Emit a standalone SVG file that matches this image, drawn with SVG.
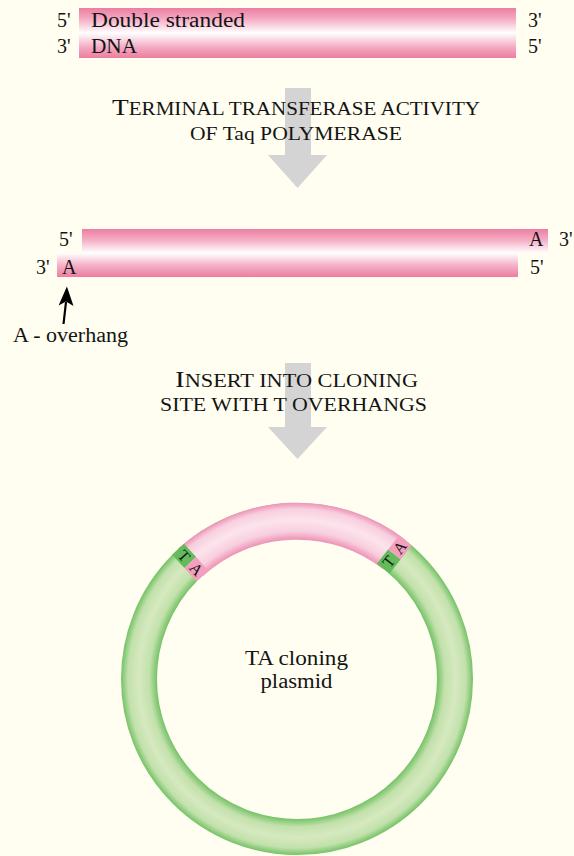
<svg xmlns="http://www.w3.org/2000/svg" width="574" height="856" viewBox="0 0 574 856">
<defs>
<style>
.t{font-family:'Liberation Serif','Times New Roman','DejaVu Serif',serif;fill:#141414}
.lbl{font-size:20px}
.sc{font-size:18.5px}
.cap{font-size:24px}
.bx{font-size:16px}
.garrow{fill:#d4d4d4}
</style>
<linearGradient id="dnaFull" x1="0" y1="0" x2="0" y2="1">
<stop offset="0" stop-color="#ec7ea0"/><stop offset="0.2" stop-color="#f3a6c0"/><stop offset="0.5" stop-color="#ffffff"/><stop offset="0.8" stop-color="#f3a6c0"/><stop offset="1" stop-color="#ec7ea0"/>
</linearGradient>
<linearGradient id="strandTop" x1="0" y1="0" x2="0" y2="1">
<stop offset="0" stop-color="#ec7ea0"/><stop offset="0.45" stop-color="#f4acc4"/><stop offset="1" stop-color="#ffffff"/>
</linearGradient>
<linearGradient id="strandBot" x1="0" y1="0" x2="0" y2="1">
<stop offset="0" stop-color="#ffffff"/><stop offset="0.55" stop-color="#f4acc4"/><stop offset="1" stop-color="#ec7ea0"/>
</linearGradient>
<radialGradient id="greenRing" gradientUnits="userSpaceOnUse" cx="297" cy="679" r="176">
<stop offset="0.795" stop-color="#74c266"/><stop offset="0.84" stop-color="#c2e1ab"/><stop offset="0.9" stop-color="#d6e9c0"/><stop offset="0.96" stop-color="#c2e1ab"/><stop offset="1" stop-color="#74c266"/>
</radialGradient>
<radialGradient id="pinkRing" gradientUnits="userSpaceOnUse" cx="297" cy="679" r="177">
<stop offset="0.79" stop-color="#ee96b7"/><stop offset="0.835" stop-color="#f8cfdf"/><stop offset="0.9" stop-color="#fce4ec"/><stop offset="0.96" stop-color="#f8cfdf"/><stop offset="1" stop-color="#ec8db1"/>
</radialGradient>
</defs>
<rect width="574" height="856" fill="#fffef0"/>

<g id="connectors">
<path class="garrow" d="M285 88 H311 V155 H327 L297.5 188 L268 155 H285 Z"/>
<path class="garrow" d="M285 363 H311 V427 H327 L297.5 459 L268 427 H285 Z"/>
<line x1="63.5" y1="324" x2="66" y2="302" stroke="#000" stroke-width="2.2"/>
<path d="M66.9 286.5 L73.5 306 L66 301.5 L58.6 305.5 Z" fill="#000"/>
</g>

<g font-family="'Liberation Serif','Times New Roman','DejaVu Serif',serif">
<g id="dna-top">
<rect x="79" y="8" width="437" height="50" fill="url(#dnaFull)"/>
<text class="t lbl" x="57" y="27">5'</text>
<text class="t lbl" x="57" y="53">3'</text>
<text class="t lbl" x="91" y="27" textLength="154" lengthAdjust="spacingAndGlyphs">Double stranded</text>
<text class="t lbl" x="91" y="53" textLength="46" lengthAdjust="spacingAndGlyphs">DNA</text>
<text class="t lbl" x="528" y="27">3'</text>
<text class="t lbl" x="528" y="53">5'</text>
</g>

<g id="step1-label">
<text class="t" x="296" y="115" text-anchor="middle" textLength="368" lengthAdjust="spacingAndGlyphs"><tspan class="cap">T</tspan><tspan class="sc">ERMINAL TRANSFERASE ACTIVITY</tspan></text>
<text class="t sc" x="296" y="140" text-anchor="middle" textLength="212" lengthAdjust="spacingAndGlyphs">OF Taq POLYMERASE</text>
</g>

<g id="dna-overhang">
<rect x="82" y="229" width="466" height="24" fill="url(#strandTop)"/>
<rect x="57" y="253" width="461" height="24" fill="url(#strandBot)"/>
<text class="t lbl" x="59" y="246">5'</text>
<text class="t lbl" x="529" y="246">A</text>
<text class="t lbl" x="559" y="246">3'</text>
<text class="t lbl" x="36" y="274">3'</text>
<text class="t lbl" x="62" y="274">A</text>
<text class="t lbl" x="530" y="274">5'</text>
</g>

<g id="a-overhang-label">
<text class="t lbl" x="13" y="342" textLength="115" lengthAdjust="spacingAndGlyphs">A - overhang</text>
</g>

<g id="step2-label">
<text class="t" x="296.5" y="387" text-anchor="middle" textLength="243" lengthAdjust="spacingAndGlyphs"><tspan class="cap">I</tspan><tspan class="sc">NSERT INTO CLONING</tspan></text>
<text class="t sc" x="293.5" y="411" text-anchor="middle" textLength="267" lengthAdjust="spacingAndGlyphs">SITE WITH T OVERHANGS</text>
</g>

<g id="plasmid">
<circle cx="297" cy="679" r="158" fill="none" stroke="url(#greenRing)" stroke-width="36"/>
<path d="M190.3 562.5 A158.5 158.5 0 0 1 394.3 554.5" fill="none" stroke="url(#pinkRing)" stroke-width="37"/>
<g transform="translate(297 679) rotate(-42.5)">
<rect x="-8" y="-176" width="16" height="18" fill="#63bb5c"/>
<rect x="-8" y="-158" width="16" height="18" fill="#f3a0bf"/>
<text class="t bx" transform="translate(0 -167) rotate(90)" text-anchor="middle" dominant-baseline="central">T</text>
<text class="t bx" transform="translate(0 -149) rotate(90)" text-anchor="middle" dominant-baseline="central">A</text>
</g>
<g transform="translate(297 679) rotate(38)">
<rect x="-8" y="-176" width="16" height="18" fill="#f3a0bf"/>
<rect x="-8" y="-158" width="16" height="18" fill="#63bb5c"/>
<text class="t bx" transform="translate(0 -167) rotate(-90)" text-anchor="middle" dominant-baseline="central">A</text>
<text class="t bx" transform="translate(0 -149) rotate(-90)" text-anchor="middle" dominant-baseline="central">T</text>
</g>
<text class="t lbl" x="296.5" y="665" text-anchor="middle" textLength="103" lengthAdjust="spacingAndGlyphs">TA cloning</text>
<text class="t lbl" x="296.5" y="688" text-anchor="middle" textLength="72" lengthAdjust="spacingAndGlyphs">plasmid</text>
</g>
</g>
</svg>
